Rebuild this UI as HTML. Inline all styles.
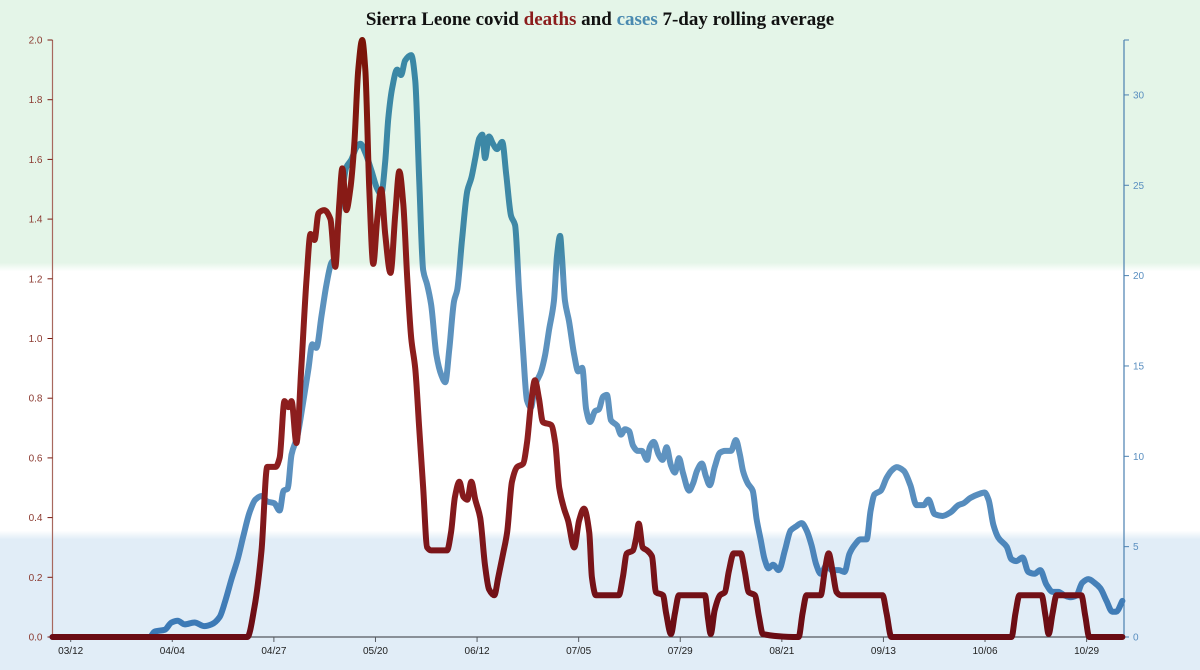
<!DOCTYPE html>
<html><head><meta charset="utf-8"><style>
html,body{margin:0;padding:0;width:1200px;height:670px;overflow:hidden;background:#fff}
svg{display:block}
</style></head><body>
<svg id="chart" width="1200" height="670" xmlns="http://www.w3.org/2000/svg">
<defs>
<linearGradient id="bg" x1="0" y1="0" x2="0" y2="670" gradientUnits="userSpaceOnUse">
<stop offset="0" stop-color="#e4f5e8"/><stop offset="0.392" stop-color="#e4f5e8"/><stop offset="0.405" stop-color="#ffffff"/>
<stop offset="0.792" stop-color="#ffffff"/><stop offset="0.805" stop-color="#e1edf7"/><stop offset="1" stop-color="#e1edf7"/>
</linearGradient>
<linearGradient id="gd" x1="0" y1="637" x2="0" y2="40" gradientUnits="userSpaceOnUse">
<stop offset="0" stop-color="#6a0c14"/><stop offset="0.3" stop-color="#8d1f20"/><stop offset="0.7" stop-color="#8a1c18"/><stop offset="1" stop-color="#7a1408"/>
</linearGradient>
<linearGradient id="gc" x1="0" y1="637" x2="0" y2="40" gradientUnits="userSpaceOnUse">
<stop offset="0" stop-color="#3a78b5"/><stop offset="0.3" stop-color="#5f93c0"/><stop offset="0.6" stop-color="#5b92bd"/><stop offset="0.65" stop-color="#3f88a6"/><stop offset="1" stop-color="#3a88a5"/>
</linearGradient>
</defs>
<rect x="0" y="0" width="1200" height="670" fill="url(#bg)"/>
<text x="600" y="25" text-anchor="middle" font-family="Liberation Serif, serif" font-weight="bold" font-size="19" fill="#111">Sierra Leone covid <tspan fill="#8b1c1c">deaths</tspan> and <tspan fill="#4a8ab0">cases</tspan> 7-day rolling average</text>
<g id="axes"></g>
<g id="series"></g>
</svg>
<script>
const xTickLabels=["03/12","04/04","04/27","05/20","06/12","07/05","07/29","08/21","09/13","10/06","10/29"];
const xTickDays=[0,23,46,69,92,115,138,161,184,207,230];
const leftTicks=[0,0.2,0.4,0.6,0.8,1.0,1.2,1.4,1.6,1.8,2.0];
const rightTicks=[0,5,10,15,20,25,30];
const deathDays=[-4.3,39.3,40,41.6,43.2,44.5,46.4,47.3,48.4,49.3,50,51.1,52.2,53.4,54.3,55.2,56.1,57.4,58.8,59.9,60.8,61.5,62.4,63.3,64.2,65.1,66,66.7,67.6,68.5,69.4,70.3,71.2,72.4,73.5,74.4,75.3,76.2,77.1,78,78.9,79.8,80.7,81.6,85.2,86.1,87,88,88.9,89.8,90.7,91.6,92.7,93.8,94.7,95.9,96.8,97.9,98.8,99.9,101.1,102.4,103.3,104.2,105.1,106,106.9,108.8,109.7,110.6,111.7,112.6,114,115.1,116.2,117.4,118,118.9,124.1,125,125.9,127.3,128,128.6,129.5,130.5,131.6,132.5,134.1,134.8,135.9,136.8,137.7,143.6,144.3,144.9,145.8,147,148.1,149,150.1,151.7,152.6,153.5,154.9,155.8,156.7,164.8,165.7,166.6,169.8,170.7,171.6,172.5,173.4,174.3,183.8,184.7,185.8,213,213.9,214.8,219.8,220.7,221.4,222.3,223.2,228.8,229.7,230.6,238.1];
const deathValues=[0,0,0,0.1,0.29,0.57,0.57,0.6,0.79,0.77,0.79,0.65,0.9,1.2,1.35,1.33,1.42,1.43,1.4,1.24,1.45,1.57,1.43,1.5,1.65,1.9,2.0,1.9,1.5,1.25,1.4,1.5,1.35,1.22,1.42,1.56,1.45,1.2,1.0,0.9,0.7,0.5,0.3,0.29,0.29,0.35,0.47,0.52,0.47,0.46,0.52,0.46,0.4,0.24,0.16,0.14,0.2,0.28,0.35,0.52,0.57,0.58,0.65,0.78,0.86,0.8,0.72,0.71,0.65,0.5,0.43,0.39,0.3,0.39,0.43,0.35,0.2,0.14,0.14,0.2,0.28,0.29,0.33,0.38,0.3,0.29,0.27,0.15,0.14,0.08,0.01,0.08,0.14,0.14,0.06,0.01,0.09,0.14,0.15,0.22,0.28,0.28,0.22,0.15,0.14,0.07,0.01,0,0.08,0.14,0.14,0.22,0.28,0.22,0.15,0.14,0.14,0.08,0,0,0.08,0.14,0.14,0.07,0.01,0.08,0.14,0.14,0.07,0,0];
const caseDays=[-4.3,17.9,19,21.3,22.8,24.2,25.8,28,30.3,31.9,33.7,35,36.4,37.8,39.1,40.5,41.8,43.2,44.5,46.1,47.3,48.2,49.1,50,51.3,52.5,53.8,54.7,55.6,56.8,57.9,59,59.9,60.8,61.5,62.4,63.5,64.7,65.6,66.7,68.1,69.4,70.3,71.2,71.9,72.8,73.9,74.8,75.7,77.1,78,78.9,79.8,80.7,81.6,82.8,83.9,84.8,85.7,86.8,87.5,88.6,89.8,90.7,91.6,92.5,93.2,93.8,94.7,95.6,96.5,97.7,98.6,99.7,100.6,101.5,102.4,103.3,104.2,105.1,106.5,107.4,108.3,109.4,110.1,110.8,111.2,111.9,112.8,114,114.9,115.8,116.7,117.6,118.7,119.6,120.5,121.4,122.3,123.7,124.6,125.5,126.4,127.3,128.4,129.3,130.5,131.1,132,133.1,134,134.9,135.9,136.8,137.7,138.6,140,140.9,141.8,142.9,143.8,144.7,145.8,147,148.1,149.5,150.6,151.5,152.2,153.3,154.4,155.3,156.2,157.1,158,159,160.3,161.7,163,164.1,165.5,166.6,167.7,168.8,169.8,171.2,172.3,173.9,175.2,176.3,177.5,178.8,180.2,181.1,182,183.4,184.7,185.8,187,188.6,190.1,191.5,193.1,194.2,195.6,197.4,199.2,201,202.1,203.7,205.5,206.9,207.8,208.9,210,211.9,213,214.1,215.5,216.8,218.2,219.5,220.9,222.3,223.6,225,226.3,227.7,229,230.4,231.8,233.1,234.5,235.8,236.7,238.1];
const caseValues=[0,0,0.3,0.4,0.8,0.9,0.7,0.8,0.6,0.7,1.1,2.0,3.2,4.3,5.6,6.9,7.6,7.8,7.5,7.4,7.0,8.1,8.2,10.1,11.1,12.8,14.8,16.2,16.0,17.8,19.5,20.7,21.0,23.6,24.7,26.0,26.4,27.1,27.3,26.8,25.8,24.8,24.5,26.3,28.7,30.4,31.4,31.1,31.9,32.2,30.8,25.3,20.3,19.5,18.4,15.6,14.5,14.1,15.9,18.6,19.2,22.0,24.7,25.4,26.5,27.6,27.8,26.5,27.7,27.3,27.0,27.4,25.6,23.3,22.8,19.2,15.9,13.1,12.7,13.9,14.7,15.6,17.0,18.6,21.1,22.2,21.1,18.6,17.5,15.6,14.7,14.9,12.6,11.9,12.5,12.6,13.3,13.4,12.0,11.7,11.2,11.5,11.4,10.6,10.3,10.3,9.8,10.5,10.8,10.1,9.8,10.5,9.5,9.1,9.9,9.1,8.1,8.5,9.2,9.6,8.9,8.4,9.4,10.2,10.3,10.3,10.9,10.1,9.2,8.5,8.1,6.5,5.4,4.3,3.8,4.0,3.7,4.8,5.9,6.1,6.3,5.9,5.1,4.0,3.5,4.0,3.7,3.7,3.6,4.6,5.1,5.4,5.4,7.0,7.9,8.1,8.8,9.2,9.4,9.2,8.4,7.3,7.3,7.6,6.8,6.7,6.9,7.3,7.4,7.7,7.9,8.0,7.6,6.2,5.5,5.0,4.3,4.2,4.4,3.6,3.5,3.7,2.9,2.5,2.5,2.3,2.2,2.3,3.0,3.2,3.0,2.7,2.0,1.4,1.4,2.0];

const NS='http://www.w3.org/2000/svg';
const X0=52.5,X1=1124,Y0=637,Y1=40;
const xScale=d=>Math.max(X0,Math.min(X1,70.7+d*4.417));
const yLeft=v=>Y0-v/2.0*(Y0-Y1);
const yRight=v=>Y0-v/33.04*(Y0-Y1);
const axes=document.getElementById('axes');
const series=document.getElementById('series');
function mk(tag,attrs,parent){const e=document.createElementNS(NS,tag);for(const k in attrs)e.setAttribute(k,attrs[k]);parent.appendChild(e);return e;}

const xa=mk('line',{x1:X0,y1:Y0,x2:X1,y2:Y0,stroke:'#555a60','stroke-width':1.2},axes);


xTickDays.forEach((d,i)=>{
  const x=xScale(d);
  const t=mk('line',{x1:x,y1:Y0,x2:x,y2:Y0+5,stroke:'#555a60'},axes);
  
  
  const l=mk('text',{x:x,y:Y0+17,'text-anchor':'middle','font-family':'Liberation Sans, sans-serif','font-size':10,fill:'#222'},axes);
  l.textContent=xTickLabels[i];
  
  
});
const la=mk('line',{x1:X0,y1:Y1,x2:X0,y2:Y0,stroke:'#a8685e','stroke-width':1.2},axes);


leftTicks.forEach(v=>{
  const y=yLeft(v);
  const t=mk('line',{x1:X0-5,y1:y,x2:X0,y2:y,stroke:'#7a1a10'},axes);
  
  
  const l=mk('text',{x:X0-10,y:y+3.5,'text-anchor':'end','font-family':'Liberation Sans, sans-serif','font-size':10,fill:'#8b3a30'},axes);
  l.textContent=v.toFixed(1);
  
  
});
const ra=mk('line',{x1:X1,y1:Y1,x2:X1,y2:Y0,stroke:'#4a80b0','stroke-width':1.2},axes);


mk('line',{x1:X1,y1:Y1,x2:X1+5,y2:Y1,stroke:'#4a80b0'},axes);
rightTicks.forEach(v=>{
  const y=yRight(v);
  const t=mk('line',{x1:X1,y1:y,x2:X1+5,y2:y,stroke:'#4a80b0'},axes);
  
  
  const l=mk('text',{x:X1+9,y:y+3.5,'text-anchor':'start','font-family':'Liberation Sans, sans-serif','font-size':10,fill:'#5a8fc0'},axes);
  l.textContent=String(v);
  
  
});

function monotonePath(xs,ys){
  const n=xs.length;const dx=[],m=[],s=[];
  for(let i=0;i<n-1;i++){dx[i]=Math.max(0.01,xs[i+1]-xs[i]);s[i]=(ys[i+1]-ys[i])/dx[i];}
  m[0]=s[0];m[n-1]=s[n-2];
  for(let i=1;i<n-1;i++){m[i]=(s[i-1]*s[i]<=0)?0:3*(dx[i-1]+dx[i])/((2*dx[i]+dx[i-1])/s[i-1]+(dx[i]+2*dx[i-1])/s[i]);}
  let p='M'+xs[0]+','+ys[0];
  for(let i=0;i<n-1;i++){const h=dx[i]/3;p+='C'+(xs[i]+h)+','+(ys[i]+m[i]*h)+' '+(xs[i+1]-h)+','+(ys[i+1]-m[i+1]*h)+' '+xs[i+1]+','+ys[i+1];}
  return p;
}
const cp=mk('path',{d:monotonePath(caseDays.map(xScale),caseValues.map(yRight)),fill:'none',stroke:'url(#gc)','stroke-width':6,'stroke-linejoin':'round','stroke-linecap':'round'},series);


const dp=mk('path',{d:monotonePath(deathDays.map(xScale),deathValues.map(yLeft)),fill:'none',stroke:'url(#gd)','stroke-width':6,'stroke-linejoin':'round','stroke-linecap':'round'},series);


</script>
</body></html>
